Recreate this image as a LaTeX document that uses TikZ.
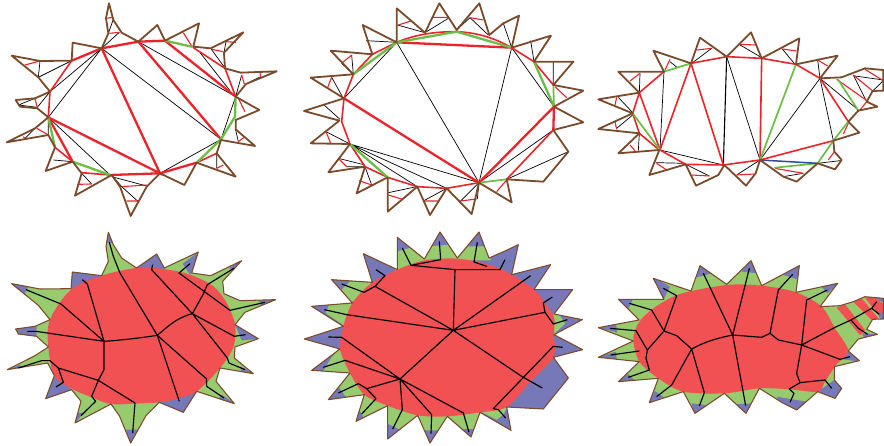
\documentclass[tikz,border=0pt]{standalone}
\definecolor{brn}{HTML}{7A4A2A}
\definecolor{rd}{HTML}{EE2229}
\definecolor{grn}{HTML}{6ABD45}
\definecolor{blu}{HTML}{2E4A9E}
\definecolor{fr}{HTML}{F15152}
\definecolor{fg}{HTML}{98CB6E}
\definecolor{fb}{HTML}{7678B8}
\tikzset{
 outl/.style={draw=brn,line width=1.8pt,line join=round},
 outb/.style={draw=brn,line width=1.05pt,line join=round},
 rk/.style={draw=rd,line width=2.3pt,line cap=round},
 rm/.style={draw=rd,line width=1.6pt,line cap=round},
 rs/.style={draw=rd,line width=1.1pt},
 gk/.style={draw=grn,line width=2.3pt,line cap=round},
 gm/.style={draw=grn,line width=1.7pt,line cap=round},
 bs/.style={draw=black,line width=0.7pt},
 ma/.style={draw=black,line width=1.15pt,line join=round},
 pan/.style={x=0.33333pt,y=-0.33333pt,shift={#1}},
}
\newcommand\outA{(327,10)--(340,60)--(365,98)--(415,125)--(472,75)--(495,122)--(597,70)--(580,140)--(632,145)--(730,97)--(672,158)--(675,205)--(722,218)--(830,214)--(738,252)--(707,290)--(778,330)--(707,360)--(707,388)--(765,438)--(663,420)--(650,460)--(707,530)--(590,488)--(553,555)--(480,520)--(440,560)--(392,648)--(360,560)--(335,525)--(225,587)--(245,520)--(218,485)--(137,513)--(165,442)--(145,405)--(20,427)--(105,385)--(145,352)--(112,325)--(60,320)--(47,300)--(105,295)--(150,275)--(115,232)--(35,167)--(120,183)--(215,182)--(218,128)--(305,145)--(325,100)--(318,55)--cycle}
\newcommand\outB{(305,25)--(390,98)--(433,10)--(485,90)--(553,10)--(583,105)--(625,70)--(672,47)--(650,143)--(768,107)--(717,185)--(835,185)--(775,255)--(865,272)--(777,320)--(865,367)--(775,390)--(820,455)--(745,545)--(635,538)--(650,607)--(552,548)--(530,642)--(455,565)--(405,645)--(367,560)--(278,635)--(278,532)--(185,580)--(210,500)--(100,517)--(165,432)--(47,430)--(133,362)--(27,333)--(147,295)--(47,233)--(175,223)--(107,152)--(232,163)--(203,75)--(305,127)--cycle}
\newcommand\outC{(85,155)--(148,218)--(25,238)--(128,280)--(25,327)--(148,340)--(85,400)--(208,390)--(178,465)--(230,450)--(287,433)--(318,497)--(385,465)--(403,435)--(468,497)--(497,460)--(510,420)--(580,470)--(620,485)--(683,430)--(735,448)--(755,420)--(733,395)--(730,362)--(808,338)--(775,305)--(805,272)--(862,260)--(830,245)--(848,213)--(880,212)--(880,150)--(825,145)--(755,172)--(690,175)--(743,107)--(618,133)--(628,55)--(515,115)--(483,37)--(410,110)--(330,53)--(303,130)--(190,92)--(222,155)--cycle}
\newcommand\outD{(325,28)--(340,65)--(365,105)--(410,135)--(470,93)--(493,135)--(595,87)--(575,150)--(632,158)--(725,113)--(668,175)--(672,212)--(720,233)--(827,230)--(735,268)--(705,305)--(775,347)--(705,372)--(703,405)--(760,452)--(660,435)--(648,475)--(703,542)--(590,505)--(550,568)--(478,538)--(438,578)--(392,660)--(358,578)--(333,543)--(225,600)--(243,535)--(215,500)--(137,527)--(163,458)--(143,420)--(22,440)--(105,398)--(145,372)--(110,340)--(55,333)--(47,318)--(105,310)--(150,290)--(115,247)--(35,182)--(120,198)--(213,197)--(217,147)--(305,158)--(325,115)--(318,70)--cycle}
\newcommand\outE{(307,43)--(388,108)--(435,27)--(487,105)--(552,27)--(582,105)--(628,85)--(670,65)--(650,155)--(767,125)--(717,200)--(833,200)--(777,273)--(862,290)--(777,335)--(863,380)--(775,403)--(820,465)--(745,558)--(635,552)--(648,622)--(555,568)--(528,642)--(457,580)--(405,660)--(368,577)--(278,648)--(278,548)--(183,595)--(208,515)--(100,530)--(165,450)--(50,442)--(135,378)--(28,348)--(145,310)--(50,250)--(172,240)--(110,170)--(232,178)--(205,92)--(307,140)--cycle}
\newcommand\outF{(85,178)--(147,240)--(25,263)--(130,303)--(25,352)--(148,365)--(85,425)--(205,415)--(178,488)--(280,455)--(315,520)--(403,460)--(468,520)--(508,445)--(580,490)--(620,510)--(683,455)--(735,475)--(755,445)--(733,420)--(733,380)--(808,362)--(775,333)--(805,297)--(862,283)--(830,268)--(848,238)--(880,237)--(880,175)--(825,170)--(790,185)--(750,197)--(690,200)--(743,130)--(618,157)--(628,77)--(515,137)--(483,62)--(410,133)--(330,77)--(303,153)--(190,115)--(222,178)--cycle}
\begin{document}
\begin{tikzpicture}
\useasboundingbox (0,0) rectangle (884pt,-446pt);
% ---------- panel A
\begin{scope}[pan={(0,0)}]
\draw[bs] (305,145)--(663,418) (415,125)--(707,290) (145,352)--(330,525) (305,145)--(150,275) (305,145)--(145,352) (480,520)--(663,418) (663,418)--(707,290) (305,145)--(358,97) (340,58)--(325,100) (678,125)--(672,158) (632,145)--(672,200) (600,158)--(690,272) (725,225)--(707,290) (738,252)--(782,230) (707,390)--(715,425) (650,460)--(650,505) (335,530)--(440,558) (365,560)--(415,605) (395,640)--(415,605) (245,520)--(275,552) (160,480)--(218,485) (105,385)--(75,415) (145,352)--(145,405) (55,315)--(105,295) (55,315)--(112,322) (112,322)--(150,275) (120,183)--(115,232) (115,232)--(215,182) (335,525)--(365,560);
\draw[rs] (318,55)--(340,52) (328,100)--(358,97) (550,98)--(575,138) (678,125)--(708,127) (635,148)--(670,155) (725,225)--(733,252) (780,217)--(782,230) (715,295)--(735,335) (735,410)--(715,425) (650,505)--(670,495) (365,560)--(440,555) (380,603)--(415,603) (232,553)--(275,552) (70,410)--(78,418) (110,385)--(145,405) (105,297)--(112,322) (75,195)--(120,183);
\draw[rm] (580,143)--(675,205) (245,518)--(330,525) (590,488)--(650,460) (675,205)--(707,290) (165,442)--(218,485) (145,352)--(150,275)--(215,182);
\draw[rk] (215,182)--(305,145)--(415,125)--(495,122) (590,488)--(480,520)--(330,525) (305,145)--(480,520)--(145,352)--(218,485) (415,125)--(663,418) (495,122)--(707,290);
\draw[gk] (495,122)--(575,140) (707,290)--(705,350)--(663,418)--(590,488) (330,525)--(218,485) (165,442)--(145,352);
\draw[outl] \outA;
\end{scope}
% ---------- panel B
\begin{scope}[pan={(295pt,0)}]
\draw[bs] (305,127)--(552,548) (650,143)--(552,548) (650,143)--(777,320) (147,295)--(305,127) (165,432)--(552,548) (165,432)--(455,565) (165,432)--(367,560) (552,548)--(775,390) (635,538)--(820,455) (307,75)--(390,98) (390,98)--(460,55) (485,90)--(525,53) (525,53)--(580,105) (625,70)--(650,143) (707,122)--(717,185) (775,185)--(775,255) (497,603)--(552,548) (552,548)--(547,597) (385,603)--(455,565) (430,603)--(455,565) (280,578)--(365,560) (322,598)--(367,560) (210,500)--(230,555) (130,475)--(210,495) (155,500)--(210,500) (165,432)--(207,495) (93,395)--(165,432) (85,313)--(135,358) (110,232)--(145,295) (170,165)--(175,223) (140,190)--(175,223) (213,122)--(305,127);
\draw[rs] (310,75)--(348,63) (410,52)--(460,52) (525,53)--(565,60) (780,260)--(815,293) (635,540)--(605,575) (497,603)--(545,597) (385,603)--(432,603) (280,585)--(322,598) (192,542)--(230,555) (133,478)--(155,500) (93,395)--(108,432) (110,232)--(97,265) (170,165)--(140,190);
\draw[rm] (305,127) .. controls (370,100) and (430,95) .. (485,95) .. controls (550,98) and (600,115) .. (650,143)--(717,185)--(775,255) (775,390)--(635,538) (552,548)--(455,565)--(367,560)--(278,532)--(210,500)--(165,432)--(140,365)--(147,295)--(175,223)--(232,163)--(305,127);
\draw[rk] (305,127)--(650,143) (777,320)--(775,390) (777,320)--(552,548)--(147,295);
\draw[gk] (305,127)--(485,95)--(650,143) (717,185)--(777,320) (278,532)--(165,432) (175,223)--(305,127);
\draw[gm] (775,255)--(777,320) (552,548)--(635,538);
\draw[outl] \outB;
\end{scope}
% ---------- panel C
\begin{scope}[pan={(590pt,-20pt)}]
\draw[bs] (222,155)--(210,390) (410,110)--(510,420) (690,175)--(510,420) (690,175)--(730,362) (210,390)--(400,435) (690,175)--(805,270) (683,120)--(690,175) (150,160)--(148,218) (240,125)--(262,143) (305,130)--(365,85) (447,73)--(510,110) (577,87)--(615,133) (85,232)--(128,278) (80,325)--(128,285) (148,340)--(145,392) (197,428)--(285,430) (287,433)--(358,468) (440,465)--(510,420) (580,470)--(640,460) (683,430)--(750,422) (790,165)--(830,245) (795,168)--(880,180) (848,213)--(880,182);
\draw[black,line width=1.1pt] (410,110)--(400,435);
\draw[rs] (120,183)--(150,160) (225,150)--(240,118) (320,90)--(365,85) (447,73)--(497,75) (577,87)--(620,93) (683,120)--(713,138) (80,232)--(75,255) (75,305)--(80,328) (120,375)--(135,392) (200,430)--(230,450) (305,465)--(358,468) (440,465)--(493,462) (555,445)--(640,460) (715,420)--(733,395) (760,342)--(775,310) (810,270)--(830,245) (740,178)--(835,245) (825,148)--(880,182) (848,213)--(790,165);
\draw[rm] (222,155)--(148,218)--(210,390) (148,218)--(128,280)--(148,340)--(208,390) (303,130)--(210,390) (303,130)--(400,435) (303,130)--(410,110)--(515,115)--(618,133)--(690,175)--(775,305) (515,115)--(510,420) (210,390)--(287,433)--(400,435)--(510,420)--(730,362);
\draw[gm] (128,280)--(210,390) (222,155)--(303,130) (618,133)--(510,420) (555,443)--(683,430)--(730,362)--(775,305) (745,180)--(805,272);
\draw[blu,line width=1.5pt] (510,420)--(683,430);
\draw[outl] \outC;
\end{scope}
% ---------- panel D
\begin{scope}[pan={(0,-223pt)}]
\fill[fg] \outD;
\begin{scope}
\clip \outD;
\fill[fb] (310,60)--(345,60)--(325,15)--cycle (410,137)--(495,140)--(470,80)--cycle (548,122)--(570,155)--(605,80)--cycle (688,135)--(705,152)--(735,105)--cycle (775,233)--(785,250)--(835,228)--cycle (705,305)--(725,352)--(780,347)--cycle (720,430)--(725,447)--(770,455)--cycle (665,515)--(655,527)--(710,545)--cycle (478,538)--(592,505)--(550,575)--cycle (378,620)--(415,620)--(392,668)--cycle (233,570)--(250,570)--(220,608)--cycle (165,458)--(215,500)--(130,532)--cycle (60,425)--(65,437)--(15,445)--cycle (110,305)--(110,342)--(40,340)--(40,312)--cycle (85,192)--(72,215)--(28,178)--cycle (213,143)--(305,158)--(213,205)--cycle;
\fill[fr] plot[smooth cycle,tension=0.55] coordinates {(150,290)(213,200)(305,158)(410,135)(490,138)(570,155)(640,190)(680,240)(705,305)(700,372)(660,435)(590,505)(520,530)(478,538)(400,542)(333,543)(280,525)(215,497)(163,458)(145,372)};
\end{scope}
\draw[outb] \outD;
\draw[ma] (472,337) .. controls (420,345) and (360,352) .. (312,355);
\draw[ma] (472,337) .. controls (510,305) and (530,285) .. (577,272);
\draw[ma] (577,272)--(610,213)--(622,185)--(703,135) (570,122)--(537,150)--(690,262)--(795,238) (577,272)--(455,140)--(458,125) (577,272)--(703,340)--(737,335) (577,272)--(682,405)--(687,420)--(735,440) (472,337)--(360,150)--(340,100)--(328,58) (472,337)--(538,535) (472,337)--(620,468)--(620,490)--(672,525) (312,355)--(183,243)--(78,200) (312,355)--(262,183)--(247,170) (312,355)--(108,325)--(82,325) (312,355)--(312,440)--(295,472) (295,472)--(175,435)--(150,413)--(125,413)--(55,435) (175,435)--(190,478)--(168,492) (295,472)--(405,540)--(398,630) (295,472)--(275,520)--(287,535)--(243,578);
\end{scope}
% ---------- panel E
\begin{scope}[pan={(295pt,-223pt)}]
\fill[fb] \outE;
\begin{scope}
\clip \outE;
\fill[fg] (307,85)--(345,75)--(392,112)--(300,145)--cycle (405,70)--(465,65)--(490,110)--(385,112)--cycle (520,70)--(570,70)--(588,112)--(482,112)--cycle (165,175)--(140,200)--(172,245)--(240,178)--cycle (105,240)--(178,235)--(150,310)--(92,270)--cycle (135,372)--(170,450)--(85,445)--(105,410)--cycle (170,448)--(215,515)--(155,525)--(130,490)--cycle (205,512)--(282,548)--(205,582)--(190,555)--cycle (275,545)--(372,575)--(315,620)--(275,600)--cycle (365,575)--(460,578)--(430,622)--(385,622)--cycle (455,578)--(555,565)--(548,618)--(500,618)--cycle (555,565)--(638,550)--(625,575)--(605,590)--cycle (775,270)--(795,278)--(810,302)--(772,338)--cycle;
\fill[fr] plot[smooth cycle,tension=0.5] coordinates {(145,310)(172,240)(232,178)(307,140)(388,112)(487,107)(582,125)(650,155)(717,200)(750,240)(777,283)(777,335)(775,403)(705,478)(635,552)(555,568)(457,580)(368,577)(278,548)(208,515)(165,450)(135,378)};
\end{scope}
\draw[outb] \outE;
\draw[ma] (475,322)--(240,190)--(270,158)--(243,140) (240,190)--(207,208)--(140,183) (475,322)--(480,140) (322,75)--(348,127)--(437,110)--(433,55) (348,127)--(480,140)--(615,140)--(630,110) (547,58)--(537,117)--(575,130) (475,322)--(707,158) (475,322)--(750,268)--(745,240)--(772,222) (750,268)--(775,303)--(817,290) (475,322)--(680,460)--(742,495) (632,585)--(610,560)--(595,557)--(775,370)--(803,373) (475,322)--(315,468) (315,468)--(140,343)--(100,342) (315,468)--(150,412)--(85,433) (315,468)--(215,497)--(190,482)--(130,510) (215,497)--(243,527)--(200,573) (315,468)--(322,560)--(293,618) (315,468)--(410,575)--(408,632) (315,468)--(505,570)--(522,628) (475,322)--(155,275)--(88,260);
\end{scope}
% ---------- panel F
\begin{scope}[pan={(590pt,-240pt)}]
\fill[fg] \outF;
\begin{scope}
\clip \outF;
\fill[fb] (75,170)--(130,175)--(115,208)--cycle (185,108)--(240,140)--(220,180)--cycle (18,262)--(78,253)--(82,277)--cycle (18,352)--(78,335)--(80,357)--cycle (78,428)--(115,402)--(135,422)--cycle (172,492)--(195,453)--(222,472)--cycle (312,525)--(305,490)--(348,495)--cycle (468,525)--(440,492)--(495,490)--cycle (560,470)--(650,485)--(620,515)--(575,495)--cycle (683,455)--(733,420)--(762,445)--(735,482)--cycle (812,365)--(780,330)--(758,358)--cycle (868,283)--(815,280)--(825,297)--cycle (748,128)--(695,140)--(712,160)--cycle (632,72)--(580,105)--(622,118)--cycle (483,58)--(455,95)--(507,100)--cycle (328,72)--(320,112)--(367,100)--cycle;
\fill[fr] plot[smooth cycle,tension=0.5] coordinates {(130,300)(145,250)(190,205)(270,162)(410,135)(515,137)(618,157)(695,200)(735,265)(775,333)(738,375)(705,425)(683,455)(600,448)(508,445)(403,460)(280,455)(205,415)(148,365)};
\fill[fr] (740,203)--(765,193)--(825,270)--(810,285)--cycle (790,185)--(815,175)--(865,235)--(845,240)--cycle (825,173)--(850,170)--(885,195)--(885,215)--(865,225)--cycle;
\fill[fb] (850,168)--(885,168)--(885,190)--(865,180)--cycle (865,225)--(885,210)--(885,240)--(872,240)--cycle;
\end{scope}
\draw[outb] \outF;
\draw[ma] (220,145)--(260,167)--(222,273)--(185,210)--(118,190) (222,273)--(172,330)--(138,272)--(60,265) (172,330)--(168,355)--(178,390)--(115,412) (148,333)--(62,345) (222,273)--(260,287)--(305,327) (305,327) .. controls (345,305) and (380,295) .. (428,285) (305,327)--(343,458)--(328,498) (305,327)--(245,435)--(200,470) (428,285)--(340,100) (428,285)--(478,85) (428,285)--(467,497) (428,285)--(515,292)--(540,280)--(565,300)--(635,315) (540,280)--(565,150)--(608,103) (635,315)--(650,180)--(712,150) (635,315)--(735,262)--(783,240)--(845,205)--(860,185) (845,205)--(868,223) (783,240)--(805,265)--(833,283) (635,315)--(750,358)--(780,350) (635,315)--(620,400)--(630,428)--(705,420)--(725,445) (630,428)--(598,447)--(612,460)--(600,487);
\end{scope}
\end{tikzpicture}
\end{document}
